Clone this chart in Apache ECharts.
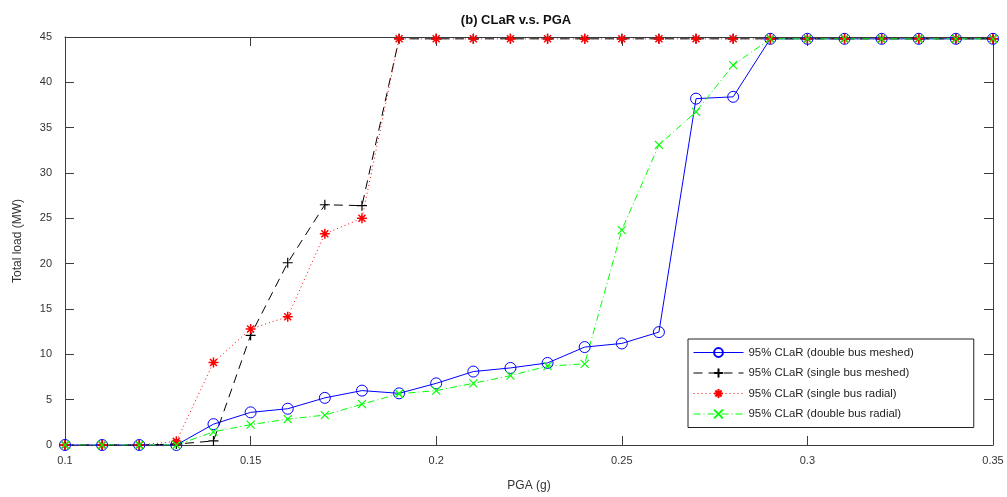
<!DOCTYPE html>
<html>
<head>
<meta charset="utf-8">
<script src="https://cdn.jsdelivr.net/npm/echarts@6/dist/echarts.min.js"></script>
<style>
html,body{margin:0;padding:0;background:#fff;}
#chart{width:1007px;height:497px;}
</style>
</head>
<body>
<div id="chart"></div>
<script>
const pga = [0.10,0.11,0.12,0.13,0.14,0.15,0.16,0.17,0.18,0.19,0.20,0.21,0.22,0.23,0.24,0.25,0.26,0.27,0.28,0.29,0.30,0.31,0.32,0.33,0.34,0.35];
const doubleBusMeshed = [0,0,0,0,2.3,3.6,4.0,5.2,6.0,5.7,6.8,8.1,8.5,9.05,10.8,11.2,12.45,38.2,38.4,44.8,44.8,44.8,44.8,44.8,44.8,44.8];
const singleBusMeshed = [0,0,0,0.1,0.45,12.1,20.1,26.5,26.4,44.8,44.8,44.8,44.8,44.8,44.8,44.8,44.8,44.8,44.8,44.8,44.8,44.8,44.8,44.8,44.8,44.8];
const singleBusRadial = [0,0,0,0.4,9.1,12.8,14.15,23.3,25.0,44.8,44.8,44.8,44.8,44.8,44.8,44.8,44.8,44.8,44.8,44.8,44.8,44.8,44.8,44.8,44.8,44.8];
const doubleBusRadial = [0,0,0,0,1.45,2.25,2.85,3.3,4.5,5.65,6.0,6.8,7.65,8.7,8.95,23.7,33.1,36.75,41.9,44.8,44.8,44.8,44.8,44.8,44.8,44.8];
const seriesNames = ['95% CLaR (double bus meshed)','95% CLaR (single bus meshed)','95% CLaR (single bus radial)','95% CLaR (double bus radial)'];
const xTicks = {min:0.1, max:0.35, interval:0.05};
const yTicks = {min:0, max:45, interval:5};
const titleText = '(b) CLaR v.s. PGA';
const xName = 'PGA (g)';
const yName = 'Total load (MW)';

const pair = arr => pga.map((x,i)=>[x, arr[i]]);
const font = 'Liberation Sans, Arial, sans-serif';
const axisCol = '#3c3c3c';
const labelCol = '#333333';

const chart = echarts.init(document.getElementById('chart'), null, {renderer:'canvas'});
chart.setOption({
  animation:false,
  backgroundColor:'#ffffff',
  title:{text:titleText,left:511,top:9,textAlign:'center',
    textStyle:{fontFamily:font,fontSize:13,fontWeight:'bold',color:'#111'}},
  grid:{left:65,right:14,top:37,bottom:48,containLabel:false},
  xAxis:[{
    type:'value',min:xTicks.min,max:xTicks.max,interval:xTicks.interval,
    name:xName,nameLocation:'middle',nameGap:35,
    nameTextStyle:{fontFamily:font,fontSize:12,color:labelCol},
    axisLine:{show:true,onZero:false,lineStyle:{color:axisCol,width:1}},
    axisTick:{show:true,inside:true,length:9,lineStyle:{color:axisCol}},
    axisLabel:{fontFamily:font,fontSize:11,color:labelCol,margin:10,
      formatter:v=>String(+v.toFixed(2))},
    splitLine:{show:false}
  },{
    type:'value',position:'top',min:xTicks.min,max:xTicks.max,interval:xTicks.interval,
    axisLine:{show:true,onZero:false,lineStyle:{color:axisCol,width:1}},
    axisTick:{show:true,inside:true,length:9,lineStyle:{color:axisCol}},
    axisLabel:{show:false},splitLine:{show:false}
  }],
  yAxis:[{
    type:'value',min:yTicks.min,max:yTicks.max,interval:yTicks.interval,
    name:yName,nameLocation:'middle',nameGap:41,nameRotate:90,
    nameTextStyle:{fontFamily:font,fontSize:12,color:labelCol},
    axisLine:{show:true,onZero:false,lineStyle:{color:axisCol,width:1}},
    axisTick:{show:true,inside:true,length:9,lineStyle:{color:axisCol}},
    axisLabel:{fontFamily:font,fontSize:11,color:labelCol,margin:13},
    splitLine:{show:false}
  },{
    type:'value',position:'right',min:yTicks.min,max:yTicks.max,interval:yTicks.interval,
    axisLine:{show:true,onZero:false,lineStyle:{color:axisCol,width:1}},
    axisTick:{show:true,inside:true,length:9,lineStyle:{color:axisCol}},
    axisLabel:{show:false},splitLine:{show:false}
  }],
  legend:{
    orient:'vertical',left:688,top:339,
    padding:[8,60,8,5],itemGap:9.5,itemWidth:50,itemHeight:11,
    borderColor:'#222',borderWidth:1,backgroundColor:'#fff',
    lineStyle:{width:1},
    textStyle:{fontFamily:font,fontSize:11.4,color:'#222'},
    data:seriesNames
  },
  series:[
    {name:seriesNames[0],type:'line',data:pair(doubleBusMeshed),
      symbol:'circle',symbolSize:11,
      lineStyle:{color:'#0000ff',width:1,type:'solid'},
      itemStyle:{color:'rgba(0,0,0,0)',borderColor:'#0000ff',borderWidth:1}},
    {name:seriesNames[1],type:'line',data:pair(singleBusMeshed),
      symbol:'path://M5,0L5,10M0,5L10,5',symbolSize:10,
      lineStyle:{color:'#000000',width:1,type:[9,6]},
      itemStyle:{color:'#000000',borderColor:'#000000',borderWidth:1.2}},
    {name:seriesNames[2],type:'line',data:pair(singleBusRadial),
      symbol:'path://M5,0L5,10M0,5L10,5M1.5,1.5L8.5,8.5M8.5,1.5L1.5,8.5',symbolSize:10,
      lineStyle:{color:'#ff0000',width:1,type:[1,3]},
      itemStyle:{color:'#ff0000',borderColor:'#ff0000',borderWidth:1.5}},
    {name:seriesNames[3],type:'line',data:pair(doubleBusRadial),
      symbol:'path://M0,0L10,10M10,0L0,10',symbolSize:8,
      lineStyle:{color:'#00ff00',width:1,type:[7,3,1,3]},
      itemStyle:{color:'#00ff00',borderColor:'#00ff00',borderWidth:1.2}}
  ]
});
</script>
</body>
</html>
